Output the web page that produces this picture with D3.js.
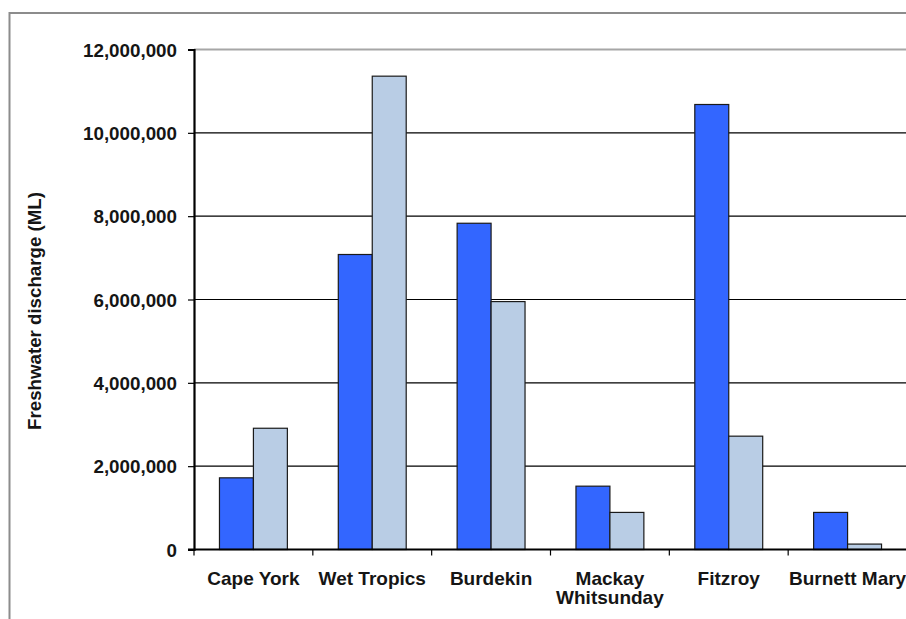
<!DOCTYPE html>
<html>
<head>
<meta charset="utf-8">
<script src="https://cdn.jsdelivr.net/npm/d3@7"></script>
<style>
  html, body { margin: 0; padding: 0; background: #fff; }
  svg { display: block; }
  text { font-family: "Liberation Sans", Arial, sans-serif; font-weight: bold; fill: #151515; }
</style>
</head>
<body>
<svg id="chart" width="906" height="619"></svg>
<script>
// Regions along the coast
const categories = [["Cape York"], ["Wet Tropics"], ["Burdekin"], ["Mackay", "Whitsunday"], ["Fitzroy"], ["Burnett Mary"]];
// Freshwater discharge (ML) per region, two series
const primarySeries = [1720000, 7080000, 7830000, 1520000, 10680000, 890000];
const secondarySeries = [2910000, 11360000, 5950000, 890000, 2720000, 130000];
const seriesColors = ["#3366FF", "#B9CDE5"];
const yTicks = [0, 2000000, 4000000, 6000000, 8000000, 10000000, 12000000];
const yTitle = "Freshwater discharge (ML)";

const svg = d3.select("#chart");
const W = 906, H = 619;
const plot = { left: 194, top: 49.5, right: 907, bottom: 549.5 };

// Outer chart frame (right and bottom edges fall outside the canvas)
svg.append("rect")
  .attr("x", 9.5).attr("y", 13)
  .attr("width", W + 20).attr("height", H + 20)
  .attr("fill", "none").attr("stroke", "#8c8c8c").attr("stroke-width", 2);

const x = d3.scaleBand()
  .domain(d3.range(categories.length))
  .range([plot.left, plot.right])
  .padding(0);

const y = d3.scaleLinear()
  .domain([0, 12000000])
  .range([plot.bottom, plot.top]);

const fmt = d3.format(",");

// Horizontal gridlines
svg.append("g")
  .selectAll("line")
  .data(yTicks.filter(d => d > 0))
  .join("line")
  .attr("x1", plot.left).attr("x2", plot.right)
  .attr("y1", d => y(d)).attr("y2", d => y(d))
  .attr("stroke", d => d === 12000000 ? "#a6a6a6" : "#000")
  .attr("stroke-width", d => d === 12000000 ? 2 : 1.2);

// Bars: two per category, gap width 150% of a bar
const bw = x.bandwidth() / 3.5;
const groups = [primarySeries, secondarySeries];
groups.forEach((vals, si) => {
  svg.append("g")
    .selectAll("rect")
    .data(vals)
    .join("rect")
    .attr("x", (d, i) => x(i) + (x.bandwidth() - 2 * bw) / 2 + si * bw)
    .attr("y", d => y(d))
    .attr("width", bw)
    .attr("height", d => y(0) - y(d))
    .attr("fill", seriesColors[si])
    .attr("stroke", "#1a1a1a")
    .attr("stroke-width", 1.2);
});

// Y axis
const yAxis = d3.axisLeft(y).tickValues(yTicks).tickFormat(fmt).tickSize(6).tickPadding(11);
const yg = svg.append("g").attr("transform", `translate(${plot.left},0)`).call(yAxis);
yg.select(".domain").attr("stroke", "#000").attr("stroke-width", 2.2);
yg.selectAll(".tick line").attr("stroke", "#000").attr("stroke-width", 1.2);
yg.selectAll(".tick text")
  .attr("font-size", 18.8).attr("font-family", "Liberation Sans, Arial, sans-serif")
  .attr("font-weight", "bold").attr("fill", "#151515").attr("dy", "0.36em");

// X axis (ticks at category boundaries)
const xg = svg.append("g");
xg.append("line")
  .attr("x1", plot.left - 6).attr("x2", plot.right)
  .attr("y1", plot.bottom).attr("y2", plot.bottom)
  .attr("stroke", "#000").attr("stroke-width", 2.2);
xg.selectAll(".xtick")
  .data(d3.range(categories.length + 1))
  .join("line")
  .attr("class", "xtick")
  .attr("x1", i => (i < categories.length ? x(i) : plot.right))
  .attr("x2", i => (i < categories.length ? x(i) : plot.right))
  .attr("y1", plot.bottom).attr("y2", plot.bottom + 6)
  .attr("stroke", "#000").attr("stroke-width", 1.2);

xg.selectAll(".xlabel")
  .data(categories)
  .join("text")
  .attr("class", "xlabel")
  .attr("text-anchor", "middle")
  .attr("font-size", 19)
  .attr("x", (d, i) => x(i) + x.bandwidth() / 2)
  .attr("y", 585)
  .each(function (lines) {
    const t = d3.select(this);
    lines.forEach((ln, k) => {
      t.append("tspan")
        .attr("x", t.attr("x"))
        .attr("dy", k === 0 ? 0 : 19)
        .text(ln);
    });
  });

// Y axis title
svg.append("text")
  .attr("transform", `translate(41,311) rotate(-90)`)
  .attr("text-anchor", "middle")
  .attr("font-size", 18.7)
  .text(yTitle);
</script>
</body>
</html>
